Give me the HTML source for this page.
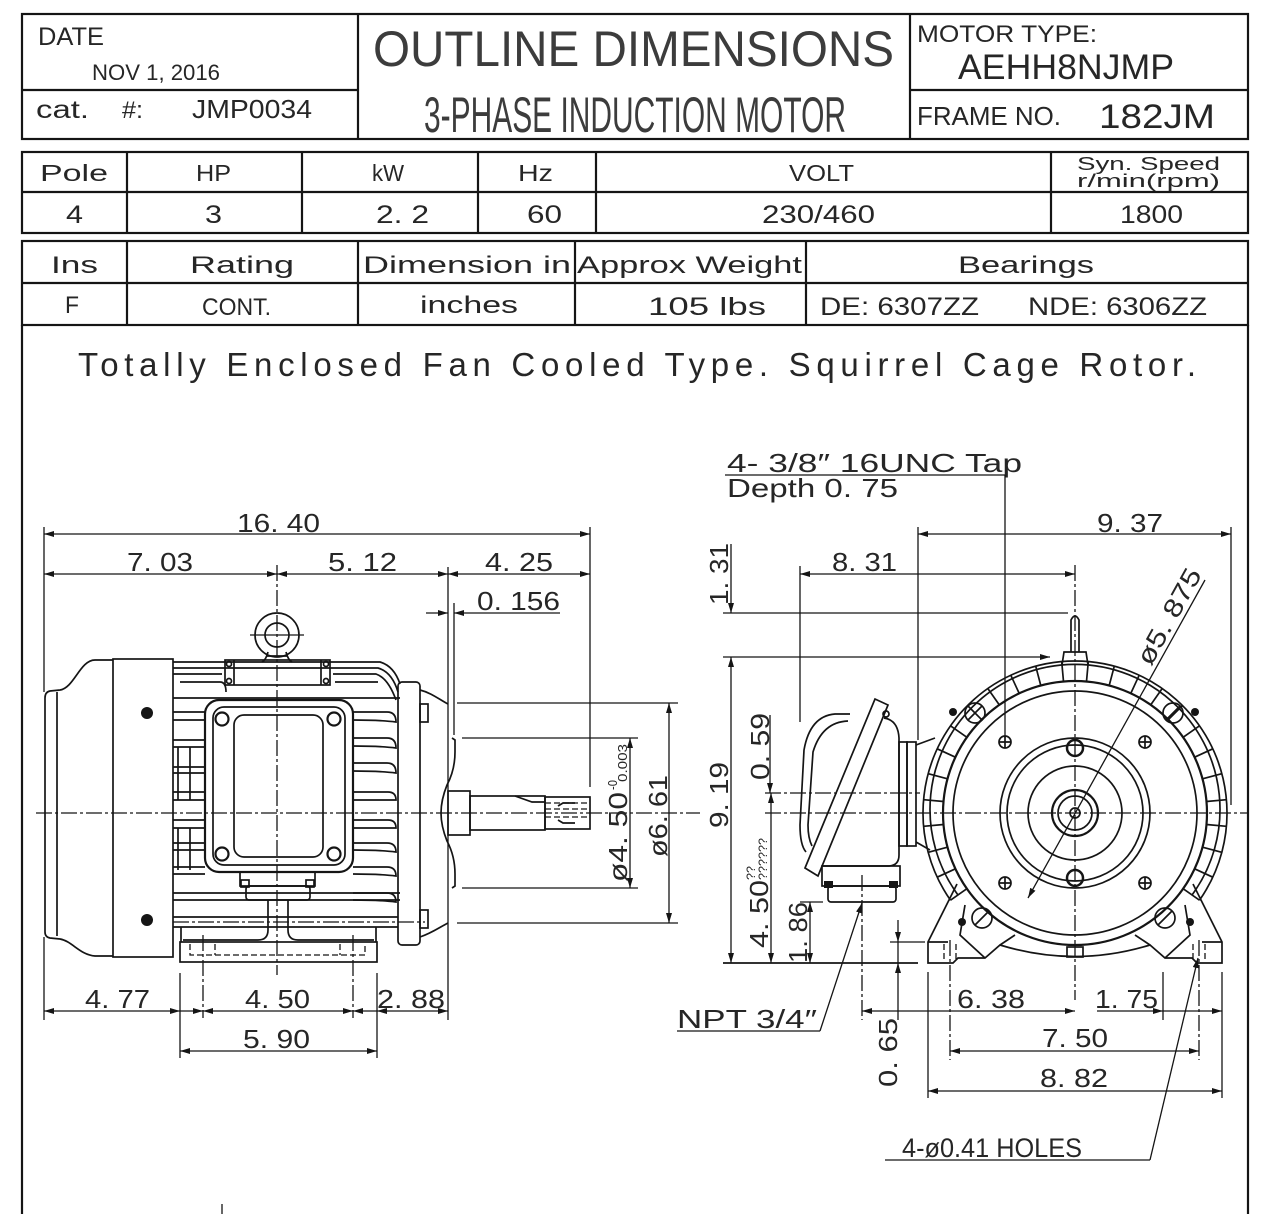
<!DOCTYPE html>
<html><head><meta charset="utf-8"><style>
html,body{margin:0;padding:0;background:#fff}
svg{display:block}
text{font-family:"Liberation Sans",sans-serif;fill:#262626}
.o{stroke:#151515;stroke-width:1.7;fill:none}
.t{stroke:#151515;stroke-width:2.2;fill:none}
.d{stroke:#151515;stroke-width:1.3;fill:none}
.c{stroke:#151515;stroke-width:1.3;fill:none;stroke-dasharray:16 3 3 3}
.h{stroke:#151515;stroke-width:1.3;fill:none;stroke-dasharray:6 3}
.big{fill:#3c3c3c}
</style></head><body>
<svg width="1280" height="1214" viewBox="0 0 1280 1214" xmlns="http://www.w3.org/2000/svg">
<defs>
<marker id="a" viewBox="0 0 10 6" refX="10" refY="3" markerWidth="10" markerHeight="6" orient="auto-start-reverse" markerUnits="userSpaceOnUse"><path d="M0,0 L10,3 L0,6 z" fill="#151515"/></marker>
</defs>

<!-- Title block -->
<rect x="22" y="14" width="1226" height="125" class="t"/>
<line x1="358" y1="14" x2="358" y2="139" class="t"/>
<line x1="910" y1="14" x2="910" y2="139" class="t"/>
<line x1="22" y1="90" x2="358" y2="90" class="t"/>
<line x1="910" y1="90" x2="1248" y2="90" class="t"/>
<text x="38" y="45" font-size="25" textLength="66" lengthAdjust="spacingAndGlyphs">DATE</text>
<text x="92" y="80" font-size="22" textLength="128" lengthAdjust="spacingAndGlyphs">NOV 1, 2016</text>
<text x="36" y="118" font-size="25" textLength="53" lengthAdjust="spacingAndGlyphs">cat.</text>
<text x="122" y="118" font-size="24" textLength="21" lengthAdjust="spacingAndGlyphs">#:</text>
<text x="192" y="118" font-size="26" textLength="120" lengthAdjust="spacingAndGlyphs">JMP0034</text>
<text class="big" x="373" y="66" font-size="50" textLength="521" lengthAdjust="spacingAndGlyphs">OUTLINE DIMENSIONS</text>
<text class="big" x="424" y="132" font-size="50" textLength="422" lengthAdjust="spacingAndGlyphs">3-PHASE INDUCTION MOTOR</text>
<text x="917" y="42" font-size="24" textLength="180" lengthAdjust="spacingAndGlyphs">MOTOR TYPE:</text>
<text x="958" y="79" font-size="35" textLength="216" lengthAdjust="spacingAndGlyphs">AEHH8NJMP</text>
<text x="917" y="125" font-size="26" textLength="144" lengthAdjust="spacingAndGlyphs">FRAME NO.</text>
<text x="1099" y="128" font-size="34" textLength="116" lengthAdjust="spacingAndGlyphs">182JM</text>

<!-- Table 1 -->
<rect x="22" y="152" width="1226" height="81" class="t"/>
<line x1="22" y1="192" x2="1248" y2="192" class="t"/>
<line x1="127" y1="152" x2="127" y2="233" class="t"/>
<line x1="302" y1="152" x2="302" y2="233" class="t"/>
<line x1="478" y1="152" x2="478" y2="233" class="t"/>
<line x1="596" y1="152" x2="596" y2="233" class="t"/>
<line x1="1051" y1="152" x2="1051" y2="233" class="t"/>
<text x="40" y="181" font-size="23" textLength="68" lengthAdjust="spacingAndGlyphs">Pole</text>
<text x="196" y="181" font-size="23" textLength="35" lengthAdjust="spacingAndGlyphs">HP</text>
<text x="372" y="181" font-size="23" textLength="32" lengthAdjust="spacingAndGlyphs">kW</text>
<text x="518" y="181" font-size="23" textLength="35" lengthAdjust="spacingAndGlyphs">Hz</text>
<text x="789" y="181" font-size="23" textLength="65" lengthAdjust="spacingAndGlyphs">VOLT</text>
<text x="1077" y="170" font-size="18" textLength="143" lengthAdjust="spacingAndGlyphs">Syn. Speed</text>
<text x="1077" y="187" font-size="18" textLength="143" lengthAdjust="spacingAndGlyphs">r/min(rpm)</text>
<text x="66" y="223" font-size="25" textLength="17" lengthAdjust="spacingAndGlyphs">4</text>
<text x="205" y="223" font-size="25" textLength="17" lengthAdjust="spacingAndGlyphs">3</text>
<text x="376" y="223" font-size="25" textLength="53" lengthAdjust="spacingAndGlyphs">2. 2</text>
<text x="527" y="223" font-size="25" textLength="35" lengthAdjust="spacingAndGlyphs">60</text>
<text x="762" y="223" font-size="25" textLength="113" lengthAdjust="spacingAndGlyphs">230/460</text>
<text x="1120" y="223" font-size="25" textLength="63" lengthAdjust="spacingAndGlyphs">1800</text>

<!-- Table 2 -->
<rect x="22" y="241" width="1226" height="84" class="t"/>
<line x1="22" y1="283" x2="1248" y2="283" class="t"/>
<line x1="127" y1="241" x2="127" y2="325" class="t"/>
<line x1="358" y1="241" x2="358" y2="325" class="t"/>
<line x1="575" y1="241" x2="575" y2="325" class="t"/>
<line x1="806" y1="241" x2="806" y2="325" class="t"/>
<text x="51" y="273" font-size="24" textLength="47" lengthAdjust="spacingAndGlyphs">Ins</text>
<text x="190" y="273" font-size="24" textLength="104" lengthAdjust="spacingAndGlyphs">Rating</text>
<text x="363" y="273" font-size="24" textLength="208" lengthAdjust="spacingAndGlyphs">Dimension in</text>
<text x="577" y="273" font-size="24" textLength="225" lengthAdjust="spacingAndGlyphs">Approx Weight</text>
<text x="958" y="273" font-size="24" textLength="136" lengthAdjust="spacingAndGlyphs">Bearings</text>
<text x="65" y="313" font-size="24" textLength="14" lengthAdjust="spacingAndGlyphs">F</text>
<text x="202" y="315" font-size="24" textLength="69" lengthAdjust="spacingAndGlyphs">CONT.</text>
<text x="420" y="313" font-size="24" textLength="98" lengthAdjust="spacingAndGlyphs">inches</text>
<text x="648" y="315" font-size="25" textLength="118" lengthAdjust="spacingAndGlyphs">105 lbs</text>
<text x="820" y="315" font-size="25" textLength="159" lengthAdjust="spacingAndGlyphs">DE: 6307ZZ</text>
<text x="1028" y="315" font-size="25" textLength="179" lengthAdjust="spacingAndGlyphs">NDE: 6306ZZ</text>

<!-- main border -->
<line x1="22" y1="325" x2="22" y2="1214" class="t"/>
<line x1="1248" y1="325" x2="1248" y2="1214" class="t"/>
<line x1="222" y1="1204" x2="222" y2="1214" class="d"/>

<text x="78" y="376" font-size="33" textLength="1118" lengthAdjust="spacing">Totally Enclosed Fan Cooled Type. Squirrel Cage Rotor.</text>

<!-- ===================== LEFT VIEW ===================== -->
<g>
<line x1="36" y1="813" x2="700" y2="813" class="c"/>
<line x1="277" y1="565" x2="277" y2="975" class="c"/>
<line x1="203" y1="935" x2="203" y2="1018" class="c"/>
<line x1="353" y1="935" x2="353" y2="1018" class="c"/>
<line x1="173" y1="922" x2="425" y2="922" class="c"/>

<path class="o" d="M113,660 L95,660 C80,660 74,688 60,690 L50,691 Q45,692 45,698 L45,932 Q45,937 50,938 L60,939 C72,941 80,955 95,956 L113,956"/>
<path class="o" d="M57,692 L57,936"/>
<rect class="o" x="113" y="659" width="60" height="298"/>
<circle cx="147" cy="713" r="6" fill="#151515"/>
<circle cx="147" cy="920" r="6" fill="#151515"/>

<path class="o" d="M173,662 L380,662 Q394,666 400,684"/>
<path class="o" d="M173,668 L378,668 Q392,672 398,692"/>
<path class="o" d="M173,674 L222,674 M333,674 L376,674 Q388,678 396,700"/>
<path class="o" d="M173,698 L400,698"/>
<path class="o" d="M173,917 L398,917"/>
<path class="o" d="M173,927 L398,927"/>
<path class="o" d="M353,712 L387,712 Q396,712 396,722 Q380,720 353,720"/>
<path class="o" d="M353,738 L387,738 Q396,738 396,748 Q380,746 353,746"/>
<path class="o" d="M353,763 L387,763 Q396,763 396,773 Q380,771 353,771"/>
<path class="o" d="M353,792 L388,792 Q396,792 396,800 L353,800"/>
<path class="o" d="M353,820 L388,820 Q396,820 396,828 L353,828"/>
<path class="o" d="M353,843 L387,843 Q396,843 396,852 Q380,850 353,850"/>
<path class="o" d="M353,867 L387,867 Q396,867 396,876 Q380,874 353,874"/>
<path class="o" d="M353,893 L387,893 Q396,893 396,902 Q380,900 353,900"/>
<path class="o" d="M173,712 L205,712 M173,720 L205,720"/>
<path class="o" d="M173,740 L205,740 M173,747 L205,747"/>
<path class="o" d="M178,747 L178,800 M190,747 L190,800"/>
<path class="o" d="M173,767 L205,767 M173,773 L205,773"/>
<path class="o" d="M173,792 L205,792 M173,800 L205,800"/>
<path class="o" d="M173,820 L205,820 M173,828 L205,828"/>
<path class="o" d="M178,828 L178,870 M190,828 L190,870"/>
<path class="o" d="M173,843 L205,843 M173,850 L205,850"/>
<path class="o" d="M173,867 L205,867 M173,874 L205,874"/>
<path class="o" d="M173,893 L400,893 M173,900 L400,900"/>
<path class="o" d="M180,682 L220,682 Q226,682 226,692 M335,682 L378,682"/>

<rect class="o" x="225" y="660" width="105" height="25"/>
<line class="o" x1="234" y1="660" x2="234" y2="685"/>
<line class="o" x1="321" y1="660" x2="321" y2="685"/>
<circle class="o" cx="229" cy="664" r="2.5"/><circle class="o" cx="326" cy="664" r="2.5"/>
<circle class="o" cx="229" cy="681" r="2.5"/><circle class="o" cx="326" cy="681" r="2.5"/>
<rect class="t" x="205" y="700" width="148" height="172" rx="14"/>
<rect class="o" x="213" y="707" width="132" height="158" rx="11"/>
<rect class="o" x="234" y="715" width="89" height="142" rx="10"/>
<circle class="t" cx="222" cy="719" r="6.5"/><circle class="t" cx="334" cy="719" r="6.5"/>
<circle class="t" cx="222" cy="854" r="6.5"/><circle class="t" cx="334" cy="854" r="6.5"/>
<rect class="o" x="240" y="872" width="75" height="14"/>
<rect class="o" x="246" y="886" width="64" height="14" rx="3"/>
<rect class="o" x="241" y="880" width="8" height="7" fill="#151515"/>
<rect class="o" x="306" y="880" width="8" height="7" fill="#151515"/>
<path class="o" d="M268,900 L268,930 Q268,940 258,940 L183,940"/>
<path class="o" d="M288,900 L288,930 Q288,940 298,940 L374,940"/>

<rect class="o" x="180" y="942" width="197" height="20"/>
<line class="o" x1="181" y1="927" x2="181" y2="942"/>
<line class="o" x1="376" y1="927" x2="376" y2="942"/>
<path class="h" d="M190,944 L190,955 L365,955 L365,944 M215,944 L215,955 M340,944 L340,955"/>

<circle class="o" cx="277" cy="635" r="22"/>
<circle class="o" cx="277" cy="635" r="12"/>
<line class="d" x1="250" y1="635" x2="304" y2="635"/>
<path class="o" d="M268,652 Q266,660 262,662 M286,652 Q288,660 292,662 M266,656 L288,656"/>

<rect class="o" x="398" y="682" width="22" height="263" rx="4"/>
<rect class="o" x="420" y="704" width="8" height="18"/>
<rect class="o" x="420" y="910" width="8" height="18"/>
<path class="o" d="M420,690 C432,693 440,700 448,704"/>
<path class="o" d="M420,937 C432,933 440,927 448,923"/>
<path class="o" d="M452,738 L455,740 L455,752 Q455,770 447,785 Q441,800 441,813 Q441,826 447,841 Q455,856 455,874 L455,886 L452,888"/>

<rect class="o" x="448" y="791" width="22" height="44"/>
<rect class="o" x="470" y="796" width="75" height="34"/>
<rect class="o" x="545" y="797" width="45" height="32"/>
<path class="o" d="M515,796 L532,802 L545,802"/>
<path class="h" d="M545,803 L590,803 M545,809 L590,809 M545,817 L590,817"/>
<path class="o" d="M558,806 L563,803 L575,803 M558,820 L563,823 L575,823"/>

<line class="d" x1="44" y1="527" x2="44" y2="692"/>
<line class="d" x1="44" y1="937" x2="44" y2="1020"/>
<line class="d" x1="590" y1="527" x2="590" y2="787"/>
<line class="d" x1="448" y1="567" x2="448" y2="1020"/>
<line class="d" x1="454" y1="603" x2="454" y2="735"/>
<line class="d" x1="44" y1="534" x2="590" y2="534" marker-start="url(#a)" marker-end="url(#a)"/>
<line class="d" x1="44" y1="574" x2="277" y2="574" marker-start="url(#a)" marker-end="url(#a)"/>
<line class="d" x1="277" y1="574" x2="448" y2="574" marker-start="url(#a)" marker-end="url(#a)"/>
<line class="d" x1="448" y1="574" x2="590" y2="574" marker-start="url(#a)" marker-end="url(#a)"/>
<line class="d" x1="426" y1="613" x2="448" y2="613" marker-end="url(#a)"/>
<line class="d" x1="560" y1="613" x2="454" y2="613" marker-end="url(#a)"/>
<text x="237" y="532" font-size="26" textLength="83" lengthAdjust="spacingAndGlyphs">16. 40</text>
<text x="127" y="571" font-size="26" textLength="66" lengthAdjust="spacingAndGlyphs">7. 03</text>
<text x="328" y="571" font-size="26" textLength="69" lengthAdjust="spacingAndGlyphs">5. 12</text>
<text x="485" y="571" font-size="26" textLength="68" lengthAdjust="spacingAndGlyphs">4. 25</text>
<text x="477" y="610" font-size="26" textLength="83" lengthAdjust="spacingAndGlyphs">0. 156</text>

<line class="d" x1="457" y1="703" x2="678" y2="703"/>
<line class="d" x1="457" y1="923" x2="678" y2="923"/>
<line class="d" x1="669" y1="703" x2="669" y2="923" marker-start="url(#a)" marker-end="url(#a)"/>
<line class="d" x1="462" y1="738" x2="638" y2="738"/>
<line class="d" x1="462" y1="888" x2="638" y2="888"/>
<line class="d" x1="630" y1="738" x2="630" y2="888" marker-start="url(#a)" marker-end="url(#a)"/>
<text transform="translate(667,857) rotate(-90)" font-size="26" textLength="82" lengthAdjust="spacingAndGlyphs">ø6. 61</text>
<text transform="translate(627,882) rotate(-90)" font-size="26" textLength="90" lengthAdjust="spacingAndGlyphs">ø4. 50</text>
<text transform="translate(617,790) rotate(-90)" font-size="13" textLength="10" lengthAdjust="spacingAndGlyphs">-0</text>
<text transform="translate(627,782) rotate(-90)" font-size="13" textLength="38" lengthAdjust="spacingAndGlyphs">0.003</text>

<line class="d" x1="180" y1="973" x2="180" y2="1058"/>
<line class="d" x1="377" y1="973" x2="377" y2="1058"/>
<line class="d" x1="44" y1="1011" x2="180" y2="1011" marker-start="url(#a)" marker-end="url(#a)"/>
<line class="d" x1="180" y1="1011" x2="203" y2="1011" marker-end="url(#a)"/>
<line class="d" x1="203" y1="1011" x2="353" y2="1011" marker-start="url(#a)" marker-end="url(#a)"/>
<line class="d" x1="377" y1="1011" x2="353" y2="1011" marker-end="url(#a)"/>
<line class="d" x1="377" y1="1011" x2="448" y2="1011" marker-start="url(#a)" marker-end="url(#a)"/>
<line class="d" x1="180" y1="1051" x2="377" y2="1051" marker-start="url(#a)" marker-end="url(#a)"/>
<text x="85" y="1008" font-size="26" textLength="65" lengthAdjust="spacingAndGlyphs">4. 77</text>
<text x="245" y="1008" font-size="26" textLength="65" lengthAdjust="spacingAndGlyphs">4. 50</text>
<text x="377" y="1008" font-size="26" textLength="68" lengthAdjust="spacingAndGlyphs">2. 88</text>
<text x="243" y="1048" font-size="26" textLength="67" lengthAdjust="spacingAndGlyphs">5. 90</text>
</g>

<!-- ===================== RIGHT VIEW ===================== -->
<g>
<line x1="765" y1="813" x2="1248" y2="813" class="c"/>
<line x1="765" y1="793" x2="920" y2="793" class="c"/>
<line x1="1075" y1="565" x2="1075" y2="1000" class="c"/>
<line x1="862" y1="875" x2="862" y2="1020" class="c"/>
<line x1="950" y1="940" x2="950" y2="1060" class="c"/>
<line x1="1199" y1="940" x2="1199" y2="1060" class="c"/>

<text x="727" y="472" font-size="26" textLength="295" lengthAdjust="spacingAndGlyphs">4- 3/8″ 16UNC Tap</text>
<line class="d" x1="725" y1="475" x2="1005" y2="475"/>
<text x="727" y="497" font-size="26" textLength="171" lengthAdjust="spacingAndGlyphs">Depth 0. 75</text>
<line class="d" x1="1005" y1="475" x2="1005" y2="738"/>

<line class="d" x1="918" y1="527" x2="918" y2="740"/>
<line class="d" x1="1231" y1="527" x2="1231" y2="805"/>
<line class="d" x1="918" y1="534" x2="1231" y2="534" marker-start="url(#a)" marker-end="url(#a)"/>
<text x="1097" y="532" font-size="26" textLength="66" lengthAdjust="spacingAndGlyphs">9. 37</text>
<line class="d" x1="800" y1="566" x2="800" y2="722"/>
<line class="d" x1="800" y1="574" x2="1075" y2="574" marker-start="url(#a)" marker-end="url(#a)"/>
<text x="832" y="571" font-size="26" textLength="65" lengthAdjust="spacingAndGlyphs">8. 31</text>
<line class="d" x1="723" y1="613" x2="1068" y2="613"/>
<line class="d" x1="723" y1="657" x2="1050" y2="657" marker-end="url(#a)"/>
<line class="d" x1="731" y1="544" x2="731" y2="613" marker-end="url(#a)"/>
<line class="d" x1="731" y1="657" x2="731" y2="963" marker-start="url(#a)" marker-end="url(#a)"/>
<text transform="translate(728,605) rotate(-90)" font-size="26" textLength="62" lengthAdjust="spacingAndGlyphs">1. 31</text>
<text transform="translate(728,828) rotate(-90)" font-size="26" textLength="66" lengthAdjust="spacingAndGlyphs">9. 19</text>
<line class="d" x1="770" y1="715" x2="770" y2="793" marker-end="url(#a)"/>
<text transform="translate(769,780) rotate(-90)" font-size="26" textLength="67" lengthAdjust="spacingAndGlyphs">0. 59</text>
<line class="d" x1="771" y1="793" x2="771" y2="963" marker-start="url(#a)" marker-end="url(#a)"/>
<text transform="translate(768,948) rotate(-90)" font-size="26" textLength="68" lengthAdjust="spacingAndGlyphs">4. 50</text>
<text transform="translate(755,880) rotate(-90)" font-size="12" textLength="14" lengthAdjust="spacingAndGlyphs">??</text>
<text transform="translate(767,880) rotate(-90)" font-size="12" textLength="42" lengthAdjust="spacingAndGlyphs">??????</text>
<line class="d" x1="800" y1="902" x2="823" y2="902"/>
<line class="d" x1="810" y1="902" x2="810" y2="963" marker-start="url(#a)" marker-end="url(#a)"/>
<text transform="translate(807,963) rotate(-90)" font-size="26" textLength="61" lengthAdjust="spacingAndGlyphs">1. 86</text>
<line class="o" x1="723" y1="963" x2="918" y2="963"/>

<text x="677" y="1028" font-size="26" textLength="140" lengthAdjust="spacingAndGlyphs">NPT 3/4″</text>
<line class="d" x1="677" y1="1031" x2="820" y2="1031"/>
<line class="d" x1="820" y1="1031" x2="862" y2="903" marker-end="url(#a)"/>

<line class="d" x1="890" y1="942" x2="925" y2="942"/>
<line class="d" x1="898" y1="920" x2="898" y2="942" marker-end="url(#a)"/>
<line class="d" x1="898" y1="1020" x2="898" y2="963" marker-end="url(#a)"/>
<line class="d" x1="898" y1="942" x2="898" y2="963"/>
<text transform="translate(897,1087) rotate(-90)" font-size="26" textLength="69" lengthAdjust="spacingAndGlyphs">0. 65</text>
<line class="d" x1="928" y1="972" x2="928" y2="1098"/>
<line class="d" x1="1222" y1="972" x2="1222" y2="1098"/>
<line class="d" x1="1163" y1="972" x2="1163" y2="1020"/>
<line class="d" x1="862" y1="1011" x2="1075" y2="1011" marker-start="url(#a)" marker-end="url(#a)"/>
<line class="d" x1="1097" y1="1011" x2="1163" y2="1011" marker-end="url(#a)"/>
<line class="d" x1="1163" y1="1011" x2="1222" y2="1011" marker-end="url(#a)"/>
<line class="d" x1="950" y1="1051" x2="1199" y2="1051" marker-start="url(#a)" marker-end="url(#a)"/>
<line class="d" x1="928" y1="1091" x2="1222" y2="1091" marker-start="url(#a)" marker-end="url(#a)"/>
<text x="957" y="1008" font-size="26" textLength="68" lengthAdjust="spacingAndGlyphs">6. 38</text>
<text x="1095" y="1008" font-size="26" textLength="63" lengthAdjust="spacingAndGlyphs">1. 75</text>
<text x="1042" y="1047" font-size="26" textLength="66" lengthAdjust="spacingAndGlyphs">7. 50</text>
<text x="1040" y="1087" font-size="26" textLength="68" lengthAdjust="spacingAndGlyphs">8. 82</text>
<text x="902" y="1157" font-size="27" textLength="180" lengthAdjust="spacingAndGlyphs">4-ø0.41 HOLES</text>
<line class="d" x1="885" y1="1160" x2="1150" y2="1160"/>
<line class="d" x1="1150" y1="1160" x2="1198" y2="958" marker-end="url(#a)"/>

<polygon class="o" points="805,868 875,699 888,705 818,876"/>
<circle class="o" cx="886" cy="714" r="3"/>
<path class="o" d="M850,714 L835,714 Q810,716 804,750 L800,825 Q800,845 806,852"/>
<path class="o" d="M848,721 Q822,722 813,752 L808,825 Q808,838 812,846"/>
<path class="o" d="M884,718 Q898,720 899,738 L899,855 Q899,866 888,866 L822,866"/>
<rect class="o" x="899" y="742" width="8" height="104"/>
<rect class="o" x="907" y="742" width="9" height="104"/>
<rect class="o" x="822" y="866" width="78" height="20"/>
<rect class="o" x="828" y="886" width="68" height="16" rx="3"/>
<rect x="824" y="881" width="9" height="7" fill="#151515"/>
<rect x="889" y="881" width="9" height="7" fill="#151515"/>
<path class="o" d="M916,745 L935,738 M916,842 L930,850"/>

<path class="o" d="M950.5,900.2 A152,152 0 1 1 1199.5,900.2"/>
<path class="o" d="M958,895 A145,145 0 1 1 1192,895"/>
<circle class="t" cx="1075" cy="813" r="132"/>
<circle class="o" cx="1075" cy="813" r="122"/>
<circle class="o" cx="1075" cy="813" r="75"/>
<circle class="o" cx="1075" cy="813" r="68"/>
<circle class="o" cx="1075" cy="813" r="47"/>
<circle class="t" cx="1075" cy="813" r="23" stroke-width="3"/>
<circle class="o" cx="1075" cy="813" r="17"/>
<circle class="o" cx="1075" cy="813" r="5"/>
<g class="o">
<path d="M1206.5,801.5 L1226.4,799.7 M1206.5,824.5 L1226.4,826.3 M1202.5,778.8 L1221.8,773.7 M1194.6,757.2 L1212.8,748.8 M1183.1,737.3 L1199.5,725.8 M1168.3,719.7 L1182.5,705.5 M1150.7,704.9 L1162.2,688.5 M1130.8,693.4 L1139.2,675.2 M1109.2,685.5 L1114.3,666.2 M1086.5,681.5 L1088.3,661.6 M1063.5,681.5 L1061.7,661.6 M1040.8,685.5 L1035.7,666.2 M1019.2,693.4 L1010.8,675.2 M999.3,704.9 L987.8,688.5 M981.7,719.7 L967.5,705.5 M966.9,737.3 L950.5,725.8 M955.4,757.2 L937.2,748.8 M947.5,778.8 L928.2,773.7 M943.5,801.5 L923.6,799.7 M943.5,824.5 L923.6,826.3 M1202.5,847.2 L1221.8,852.3 M1194.6,868.8 L1212.8,877.2 M1183.1,888.7 L1199.5,900.2 M947.5,847.2 L928.2,852.3 M955.4,868.8 L937.2,877.2 M966.9,888.7 L950.5,900.2"/>
</g>
<path class="o" d="M1071,652 L1071,620 Q1075,612 1079,620 L1079,652 M1062,665 L1064,652 L1086,652 L1088,665"/>
<g class="o">
<circle cx="1005" cy="742" r="6"/><circle cx="1145" cy="742" r="6"/>
<circle cx="1005" cy="883" r="6"/><circle cx="1145" cy="883" r="6"/>
<circle cx="1075" cy="748" r="8" stroke-width="2.5"/><circle cx="1075" cy="878" r="8" stroke-width="2.5"/>
<circle cx="975" cy="713" r="10"/><circle cx="1173" cy="713" r="10"/>
<circle cx="982" cy="918" r="10"/><circle cx="1165" cy="918" r="10"/>
<path d="M968,720 L982,706 M1166,720 L1180,706 M975,925 L989,911 M1158,925 L1172,911"/>
<path d="M999,742 L1011,742 M1005,736 L1005,748 M1139,742 L1151,742 M1145,736 L1145,748 M999,883 L1011,883 M1005,877 L1005,889 M1139,883 L1151,883 M1145,877 L1145,889"/>
</g>
<circle cx="953" cy="712" r="4" fill="#151515"/><circle cx="1195" cy="712" r="4" fill="#151515"/>
<circle cx="962" cy="922" r="4" fill="#151515"/><circle cx="1190" cy="922" r="4" fill="#151515"/>
<line class="d" x1="1205" y1="580" x2="1028" y2="898" marker-end="url(#a)"/>
<text transform="translate(1151,667) rotate(-61)" font-size="26" textLength="106" lengthAdjust="spacingAndGlyphs">ø5. 875</text>

<path class="o" d="M957,884 L928,942 L928,963 L953,963 L958,958 L985,958 L1000,945 Q1075,968 1150,945 L1165,958 L1192,958 L1197,963 L1222,963 L1222,942 L1193,884"/>
<path class="o" d="M928,942 L948,942 M1202,942 L1222,942"/>
<path class="o" d="M985,958 L960,935 L965,905 M1165,958 L1190,935 L1185,905"/>
<path class="o" d="M1000,945 L1015,935 M1150,945 L1135,935"/>
<rect class="o" x="1067" y="947" width="16" height="10"/>
<path class="h" d="M944,944 L944,962 M956,944 L956,962 M1193,944 L1193,962 M1205,944 L1205,962"/>
</g>
</svg>
</body></html>
